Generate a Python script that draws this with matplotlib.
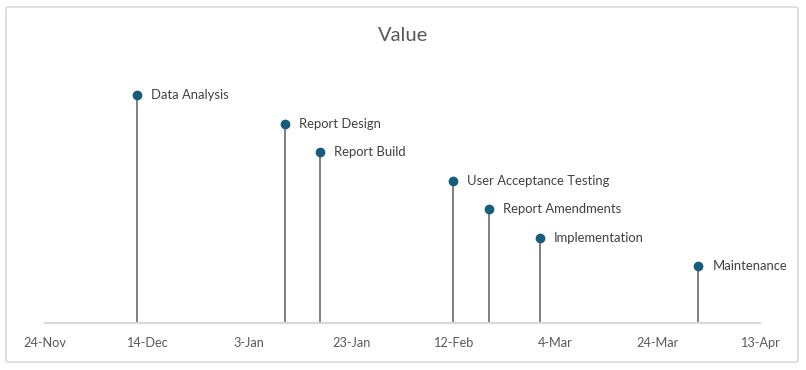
import datetime as dt

import matplotlib
import matplotlib.pyplot as plt
import matplotlib.dates as mdates
from matplotlib.patches import FancyBboxPatch

matplotlib.use("Agg")

# Milestones
tasks = [
    "Data Analysis",
    "Report Design",
    "Report Build",
    "User Acceptance Testing",
    "Report Amendments",
    "Implementation",
    "Maintenance",
]
dates = ["2024-12-12", "2025-01-10", "2025-01-17", "2025-02-12",
         "2025-02-19", "2025-03-01", "2025-04-01"]
values = [8, 7, 6, 5, 4, 3, 2]

# Axis ticks every 20 days
tick_dates = ["2024-11-24", "2024-12-14", "2025-01-03", "2025-01-23",
              "2025-02-12", "2025-03-04", "2025-03-24", "2025-04-13"]

x = [dt.datetime.strptime(d, "%Y-%m-%d") for d in dates]
ticks = [dt.datetime.strptime(d, "%Y-%m-%d") for d in tick_dates]

text_col = "#595959"
dot_col = "#165C7D"
stem_col = "#7F7F7F"
grid_col = "#D9D9D9"

plt.rcParams["font.family"] = ["Lato", "DejaVu Sans"]

fig = plt.figure(figsize=(8.06, 3.70), dpi=100)
ax = fig.add_axes([0.0555, 0.127, 0.887, 0.692])

# Outer chart border
fig.patches.append(FancyBboxPatch(
    (6 / 806, 8 / 370), 792 / 806, 355 / 370,
    boxstyle="round,pad=0,rounding_size=0.004",
    transform=fig.transFigure, facecolor="none",
    edgecolor=grid_col, linewidth=1.2))

ax.vlines(x, 0, values, color=stem_col, linewidth=1.4, zorder=2)
ax.scatter(x, values, s=36, color=dot_col, zorder=3)

for xi, yi, name in zip(x, values, tasks):
    ax.annotate(name, (xi, yi), xytext=(10, 0), textcoords="offset points",
                va="center", ha="left", fontsize=9.4, color="#404040")

ax.set_xlim(ticks[0], ticks[-1])
ax.set_ylim(0, 9)
ax.set_xticks(ticks)
ax.xaxis.set_major_formatter(mdates.DateFormatter("%-d-%b"))
ax.tick_params(axis="x", length=0, pad=10, labelsize=9.2, labelcolor=text_col)
ax.set_yticks([])

for side in ["top", "right", "left"]:
    ax.spines[side].set_visible(False)
ax.spines["bottom"].set_color(grid_col)
ax.spines["bottom"].set_linewidth(1.5)

fig.text(0.5, 0.905, "Value", ha="center", va="center",
         fontsize=14.5, color=text_col)

fig.savefig("out.png", dpi=100)
plt.close(fig)
